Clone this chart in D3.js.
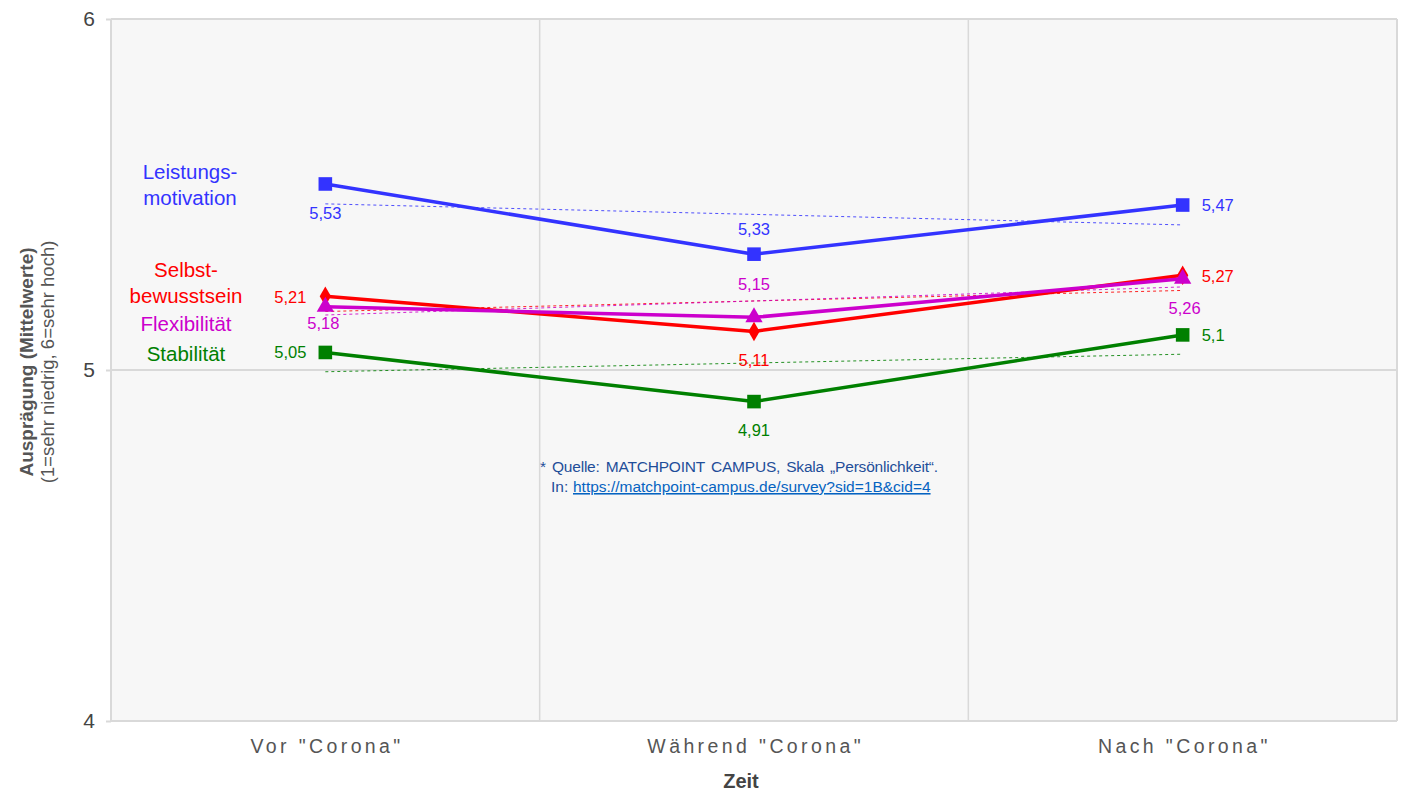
<!DOCTYPE html>
<html>
<head>
<meta charset="utf-8">
<script src="https://cdn.jsdelivr.net/npm/d3@7"></script>
<style>
  html, body { margin: 0; padding: 0; background: #ffffff; }
  svg { display: block; font-family: "Liberation Sans", Arial, sans-serif; }
</style>
</head>
<body>
<svg id="chart" width="1402" height="791"></svg>
<script>
// Zeitpunkte
const categories = ['Vor "Corona"', 'Während "Corona"', 'Nach "Corona"'];
// Mittelwerte je Skala
const leistungsmotivation = [5.53, 5.33, 5.47];
const selbstbewusstsein   = [5.21, 5.11, 5.27];
const flexibilitaet       = [5.18, 5.15, 5.26];
const stabilitaet         = [5.05, 4.91, 5.10];
const yTicks = [4, 5, 6];

const series = [
  { key: "lm", name: ["Leistungs-", "motivation"], values: leistungsmotivation, color: "#3333ff", symbol: "square" },
  { key: "sb", name: ["Selbst-", "bewusstsein"], values: selbstbewusstsein, color: "#ff0000", symbol: "diamond" },
  { key: "fx", name: ["Flexibilität"], values: flexibilitaet, color: "#cc00cc", symbol: "triangle" },
  { key: "st", name: ["Stabilität"], values: stabilitaet, color: "#008000", symbol: "square" }
];

// Label placement (pixel offsets from each marker) and name label baselines
const labelLayout = {
  lm: { offsets: [[0, 35, "middle"], [0, -19, "middle"], [19, 6, "start"]], nameBaseline: 179, nameX: 190 },
  sb: { offsets: [[-19, 7, "end"], [0, 35, "middle"], [19, 7, "start"]], nameBaseline: 277, nameX: 186 },
  fx: { offsets: [[-2, 22, "middle"], [0, -27, "middle"], [2, 35, "middle"]], nameBaseline: 331, nameX: 186 },
  st: { offsets: [[-19, 6, "end"], [0, 34, "middle"], [19, 6, "start"]], nameBaseline: 361, nameX: 186 }
};

const svg = d3.select("#chart");
const margin = { left: 111, right: 5, top: 19, bottom: 70 };
const W = 1402, H = 791;
const x = d3.scaleBand().domain(categories).range([margin.left, W - margin.right]);
const y = d3.scaleLinear().domain([4, 6]).range([H - margin.bottom, margin.top]);
const cx = d => x(d) + x.bandwidth() / 2;
const fmt = v => String(v).replace(".", ",");
const FONT = "'Liberation Sans', Arial, sans-serif";

// Plot background
svg.append("rect")
  .attr("x", margin.left).attr("y", margin.top)
  .attr("width", W - margin.right - margin.left)
  .attr("height", y(4) - y(6))
  .attr("fill", "#f7f7f7");

// Vertical gridlines between categories
svg.append("g").selectAll("line")
  .data(categories.slice(1))
  .join("line")
  .attr("x1", d => x(d)).attr("x2", d => x(d))
  .attr("y1", y(6)).attr("y2", y(4))
  .attr("stroke", "#d9d9d9").attr("stroke-width", 1.5);

// Y axis with horizontal gridlines
const yAxis = svg.append("g")
  .attr("transform", `translate(${margin.left},0)`)
  .call(d3.axisLeft(y).tickValues(yTicks).tickSize(5).tickPadding(11).tickFormat(d3.format("d")));
yAxis.select(".domain").remove();
yAxis.selectAll(".tick line").attr("stroke", "#d9d9d9").attr("stroke-width", 2);
yAxis.selectAll(".tick text").attr("fill", "#444").style("font-size", "21px").style("font-family", FONT);
svg.append("g").selectAll("line")
  .data(yTicks)
  .join("line")
  .attr("x1", margin.left).attr("x2", W - margin.right)
  .attr("y1", d => y(d)).attr("y2", d => y(d))
  .attr("stroke", "#d9d9d9").attr("stroke-width", 2);
// plot frame sides
[margin.left, W - margin.right].forEach(px => {
  svg.append("line").attr("x1", px).attr("x2", px)
    .attr("y1", y(6)).attr("y2", y(4)).attr("stroke", "#d9d9d9").attr("stroke-width", 2);
});

// X axis labels
const xAxis = svg.append("g")
  .attr("transform", `translate(0,${y(4)})`)
  .call(d3.axisBottom(x).tickSize(0).tickPadding(18));
xAxis.select(".domain").remove();
xAxis.selectAll(".tick text")
  .attr("fill", "#555").attr("dx", "1.7px")
  .style("font-size", "19.5px").style("letter-spacing", "3.4px").style("font-family", FONT);

// Axis titles
svg.append("text")
  .attr("x", cx(categories[1]) - 13).attr("y", 788)
  .attr("text-anchor", "middle").attr("fill", "#444")
  .style("font-size", "20px").style("font-weight", "bold")
  .text("Zeit");

const yt = svg.append("g").attr("transform", `translate(0,362) rotate(-90)`);
yt.append("text").attr("x", 0).attr("y", 33)
  .attr("text-anchor", "middle").attr("fill", "#555")
  .style("font-size", "19px").style("font-weight", "bold")
  .text("Ausprägung (Mittelwerte)");
yt.append("text").attr("x", 0).attr("y", 54)
  .attr("text-anchor", "middle").attr("fill", "#555")
  .style("font-size", "18.5px")
  .text("(1=sehr niedrig, 6=sehr hoch)");

// Linear trend line for a series (least squares over category index)
function trend(values) {
  const n = values.length;
  const xs = d3.range(n);
  const mx = d3.mean(xs), my = d3.mean(values);
  const slope = d3.sum(xs, (xi, i) => (xi - mx) * (values[i] - my)) / d3.sum(xs, xi => (xi - mx) ** 2);
  return [my - slope * mx, my + slope * (n - 1 - mx)];
}

// Trend lines
series.forEach(s => {
  const [a, b] = trend(s.values);
  svg.append("line")
    .attr("x1", cx(categories[0])).attr("y1", y(a))
    .attr("x2", cx(categories[categories.length - 1])).attr("y2", y(b))
    .attr("stroke", s.color).attr("stroke-width", 1)
    .attr("stroke-dasharray", "3,3").attr("opacity", 0.85);
});

// Lines and markers
const line = d3.line().x((d, i) => cx(categories[i])).y(d => y(d));
const symbolTypes = { square: d3.symbolSquare, diamond: d3.symbolDiamond, triangle: d3.symbolTriangle };
const symbolSizes = { square: 185, diamond: 110, triangle: 130 };

series.forEach(s => {
  svg.append("path")
    .datum(s.values)
    .attr("d", line)
    .attr("fill", "none")
    .attr("stroke", s.color)
    .attr("stroke-width", 3.5)
    .attr("stroke-linejoin", "round");
  svg.append("g").selectAll("path")
    .data(s.values)
    .join("path")
    .attr("transform", (d, i) => `translate(${cx(categories[i])},${y(d)})`)
    .attr("d", d3.symbol().type(symbolTypes[s.symbol]).size(symbolSizes[s.symbol]))
    .attr("fill", s.color);
});

// Value labels
series.forEach(s => {
  const lay = labelLayout[s.key];
  svg.append("g").selectAll("text")
    .data(s.values)
    .join("text")
    .attr("x", (d, i) => cx(categories[i]) + lay.offsets[i][0])
    .attr("y", (d, i) => y(d) + lay.offsets[i][1])
    .attr("text-anchor", (d, i) => lay.offsets[i][2])
    .attr("fill", s.color)
    .style("font-size", "16.5px")
    .text(d => fmt(d));
});

// Series names
series.forEach(s => {
  const lay = labelLayout[s.key];
  const t = svg.append("text")
    .attr("x", lay.nameX).attr("y", lay.nameBaseline)
    .attr("text-anchor", "middle")
    .attr("fill", s.color)
    .style("font-size", "20.5px");
  s.name.forEach((n, k) => {
    t.append("tspan").attr("x", lay.nameX).attr("dy", k === 0 ? 0 : 25.5).text(n);
  });
});

// Source note
const note = svg.append("g").attr("fill", "#1f4e99").style("font-size", "15.5px");
note.append("text").attr("x", 540).attr("y", 472)
  .style("word-spacing", "2px").style("letter-spacing", "-0.2px")
  .text("* Quelle: MATCHPOINT CAMPUS, Skala „Persönlichkeit“.");
note.append("text").attr("x", 551).attr("y", 492).text("In:");
note.append("text").attr("x", 573).attr("y", 492)
  .attr("fill", "#0563c1").style("text-decoration", "underline")
  .text("https://matchpoint-campus.de/survey?sid=1B&cid=4");
</script>
</body>
</html>
